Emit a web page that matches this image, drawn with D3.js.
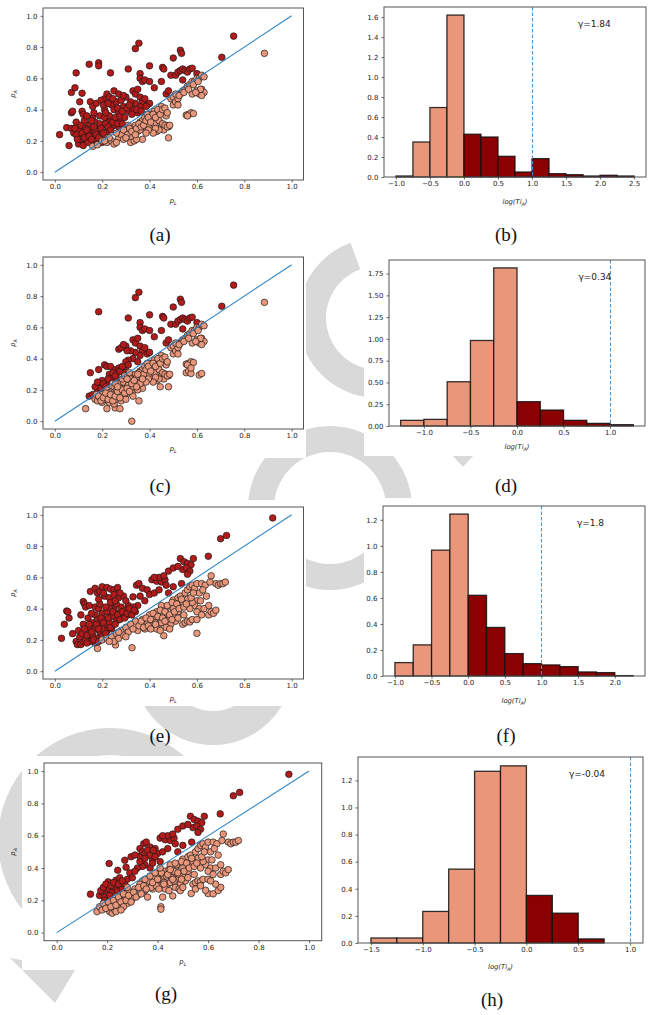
<!DOCTYPE html>
<html>
<head>
<meta charset="utf-8">
<script src="https://cdn.jsdelivr.net/npm/d3@7"></script>
<style>
body{margin:0;background:#fff}
svg{display:block}
</style>
</head>
<body>
<div id="fig"></div>
<script>
// ---- scatter data: [pL, pA, above(1)/below(0)] ----
var abShared = [
[0.31,0.66,1],[0.34,0.79,1],[0.355,0.825,1],[0.36,0.63,1],[0.36,0.6,1],[0.37,0.58,1],[0.38,0.59,1],[0.4,0.68,1],
[0.4,0.58,1],[0.42,0.54,1],[0.45,0.58,1],[0.455,0.67,1],[0.46,0.66,1],[0.47,0.5,1],[0.48,0.52,1],[0.49,0.62,1],
[0.5,0.73,1],[0.51,0.62,1],[0.52,0.64,1],[0.53,0.78,1],[0.535,0.76,1],[0.53,0.65,1],[0.54,0.66,1],[0.55,0.65,1],
[0.56,0.64,1],[0.57,0.66,1],[0.58,0.665,1],[0.54,0.59,1],[0.6,0.63,1],[0.705,0.735,1],[0.755,0.87,1],[0.33,0.52,1],
[0.34,0.5,1],[0.35,0.53,1],[0.36,0.48,1],[0.37,0.45,1],[0.38,0.47,1],[0.36,0.42,1],[0.34,0.44,1],[0.32,0.45,1],
[0.33,0.4,1],[0.35,0.38,1],[0.39,0.43,1],[0.3,0.48,1],[0.31,0.39,1],[0.4,0.44,1],
[0.885,0.76,0],[0.32,0.19,0],[0.335,0.2,0],[0.37,0.21,0],[0.48,0.22,0],[0.33,0.28,0],[0.34,0.3,0],[0.35,0.26,0],
[0.36,0.32,0],[0.37,0.33,0],[0.38,0.29,0],[0.38,0.35,0],[0.39,0.31,0],[0.4,0.37,0],[0.4,0.3,0],[0.41,0.34,0],
[0.41,0.27,0],[0.42,0.39,0],[0.42,0.31,0],[0.43,0.36,0],[0.43,0.26,0],[0.44,0.4,0],[0.44,0.33,0],[0.45,0.42,0],
[0.45,0.29,0],[0.46,0.38,0],[0.46,0.27,0],[0.47,0.3,0],[0.47,0.36,0],[0.48,0.29,0],[0.44,0.27,0],[0.39,0.37,0],
[0.36,0.27,0],[0.49,0.47,0],[0.5,0.48,0],[0.5,0.43,0],[0.51,0.45,0],[0.52,0.47,0],[0.52,0.43,0],[0.53,0.5,0],
[0.54,0.52,0],[0.55,0.53,0],[0.56,0.55,0],[0.57,0.56,0],[0.58,0.58,0],[0.59,0.58,0],[0.6,0.6,0],[0.61,0.6,0],
[0.62,0.62,0],[0.63,0.61,0],[0.58,0.5,0],[0.6,0.52,0],[0.61,0.5,0],[0.62,0.53,0],[0.63,0.51,0],[0.62,0.49,0],
[0.555,0.365,0],[0.565,0.37,0],[0.575,0.38,0],[0.585,0.375,0],[0.56,0.36,0],[0.3,0.26,0],[0.31,0.3,0],[0.32,0.23,0],
[0.305,0.24,0],[0.315,0.28,0],[0.325,0.26,0],[0.345,0.28,0],[0.355,0.31,0],[0.365,0.29,0],[0.375,0.3,0],[0.385,0.33,0],
[0.395,0.35,0],[0.405,0.32,0],[0.415,0.37,0],[0.425,0.35,0],[0.435,0.4,0],[0.445,0.37,0],[0.455,0.4,0],[0.465,0.41,0],
[0.475,0.38,0],[0.455,0.31,0],[0.465,0.3,0],[0.475,0.29,0],[0.485,0.3,0],[0.425,0.28,0],[0.415,0.25,0],[0.395,0.27,0],
[0.385,0.25,0],[0.345,0.21,0],[0.51,0.5,0],[0.525,0.49,0],[0.545,0.51,0],[0.565,0.53,0],[0.585,0.56,0],[0.605,0.58,0],
[0.615,0.53,0],[0.595,0.51,0]
];
var aOnly = [
[0.02,0.24,1],[0.06,0.17,1],[0.05,0.285,1],[0.07,0.28,1],[0.08,0.25,1],[0.09,0.32,1],[0.07,0.38,1],[0.075,0.39,1],
[0.09,0.635,1],[0.07,0.51,1],[0.085,0.54,1],[0.115,0.505,1],[0.105,0.45,1],[0.115,0.39,1],[0.12,0.37,1],[0.145,0.69,1],
[0.185,0.7,1],[0.185,0.68,1],[0.235,0.635,1],[0.1,0.22,1],[0.11,0.2,1],[0.1,0.18,1],[0.12,0.17,1],[0.13,0.24,1],
[0.12,0.28,1],[0.14,0.3,1],[0.1,0.27,1],[0.09,0.24,1],[0.13,0.21,1],[0.14,0.19,1],[0.15,0.45,1],[0.16,0.42,1],
[0.15,0.26,1],[0.16,0.23,1],[0.16,0.35,1],[0.17,0.32,1],[0.18,0.28,1],[0.17,0.2,1],[0.18,0.18,1],[0.19,0.36,1],
[0.19,0.25,1],[0.2,0.3,1],[0.2,0.22,1],[0.21,0.47,1],[0.21,0.4,1],[0.22,0.5,1],[0.22,0.33,1],[0.22,0.26,1],
[0.23,0.48,1],[0.23,0.36,1],[0.24,0.43,1],[0.24,0.29,1],[0.25,0.52,1],[0.25,0.4,1],[0.26,0.45,1],[0.26,0.33,1],
[0.27,0.5,1],[0.27,0.38,1],[0.28,0.46,1],[0.28,0.34,1],[0.29,0.49,1],[0.29,0.42,1],[0.25,0.3,1],[0.27,0.29,1],
[0.2,0.19,1],[0.18,0.24,1],[0.14,0.25,1],[0.11,0.3,1],[0.13,0.28,1],[0.17,0.27,1],[0.19,0.31,1],[0.21,0.35,1],
[0.23,0.32,1],[0.105,0.21,1],[0.115,0.25,1],[0.125,0.22,1],[0.135,0.27,1],[0.145,0.23,1],[0.155,0.21,1],[0.165,0.29,1],
[0.175,0.24,1],[0.185,0.22,1],[0.195,0.28,1],[0.205,0.25,1],[0.215,0.31,1],[0.225,0.29,1],[0.235,0.27,1],[0.245,0.32,1],
[0.255,0.35,1],[0.265,0.31,1],[0.275,0.36,1],[0.285,0.31,1],[0.295,0.35,1],[0.155,0.33,1],[0.165,0.38,1],[0.175,0.44,1],
[0.195,0.46,1],[0.205,0.43,1],[0.215,0.38,1],[0.225,0.44,1],[0.245,0.47,1],[0.265,0.41,1],[0.285,0.39,1],[0.305,0.41,1],
[0.315,0.43,1],[0.325,0.37,1],[0.345,0.4,1],[0.365,0.39,1],[0.385,0.42,1],[0.125,0.33,1],[0.135,0.36,1],[0.085,0.28,1],
[0.095,0.21,1],
[0.16,0.165,0],[0.18,0.175,0],[0.2,0.2,0],[0.22,0.19,0],[0.24,0.2,0],[0.25,0.18,0],[0.27,0.22,0],[0.28,0.24,0],
[0.29,0.21,0],[0.26,0.25,0],[0.29,0.27,0],[0.26,0.19,0],[0.23,0.22,0],[0.21,0.2,0],[0.3,0.22,0],[0.34,0.24,0]
];
var cOnly = [
[0.185,0.7,1],[0.15,0.31,1],[0.185,0.33,1],[0.145,0.16,1],[0.16,0.17,1],[0.18,0.2,1],[0.19,0.24,1],[0.2,0.22,1],
[0.21,0.25,1],[0.2,0.26,1],[0.22,0.24,1],[0.21,0.36,1],[0.22,0.35,1],[0.23,0.3,1],[0.24,0.28,1],[0.25,0.33,1],
[0.235,0.35,1],[0.26,0.3,1],[0.27,0.46,1],[0.28,0.47,1],[0.29,0.49,1],[0.305,0.45,1],[0.27,0.34,1],[0.28,0.33,1],
[0.3,0.35,1],[0.29,0.31,1],[0.26,0.27,1],[0.17,0.22,1],[0.18,0.25,1],[0.195,0.21,1],[0.205,0.24,1],[0.215,0.22,1],
[0.225,0.27,1],[0.245,0.31,1],[0.255,0.29,1],[0.275,0.32,1],[0.285,0.35,1],[0.3,0.38,1],[0.31,0.36,1],
[0.13,0.08,0],[0.22,0.08,0],[0.255,0.085,0],[0.275,0.08,0],[0.325,0.0,0],[0.355,0.13,0],[0.445,0.22,0],[0.17,0.14,0],
[0.18,0.13,0],[0.19,0.15,0],[0.2,0.12,0],[0.21,0.14,0],[0.22,0.16,0],[0.23,0.12,0],[0.24,0.15,0],[0.25,0.11,0],
[0.26,0.14,0],[0.27,0.17,0],[0.28,0.13,0],[0.29,0.16,0],[0.3,0.14,0],[0.31,0.18,0],[0.22,0.2,0],[0.24,0.19,0],
[0.25,0.22,0],[0.26,0.2,0],[0.27,0.24,0],[0.28,0.21,0],[0.29,0.25,0],[0.3,0.2,0],[0.31,0.23,0],[0.32,0.27,0],
[0.33,0.22,0],[0.34,0.25,0],[0.35,0.2,0],[0.35,0.3,0],[0.36,0.24,0],[0.37,0.27,0],[0.2,0.17,0],[0.23,0.18,0],
[0.555,0.31,0],[0.565,0.32,0],[0.575,0.305,0],[0.61,0.295,0],[0.62,0.305,0],[0.575,0.34,0],[0.33,0.16,0],[0.28,0.18,0],
[0.175,0.17,0],[0.185,0.16,0],[0.195,0.13,0],[0.205,0.15,0],[0.215,0.18,0],[0.225,0.14,0],[0.235,0.17,0],[0.245,0.13,0],
[0.255,0.16,0],[0.265,0.19,0],[0.275,0.15,0],[0.285,0.2,0],[0.295,0.18,0],[0.305,0.21,0],[0.315,0.19,0],[0.325,0.24,0],
[0.335,0.26,0],[0.345,0.22,0],[0.255,0.24,0],[0.265,0.22,0],[0.285,0.27,0],[0.295,0.29,0],[0.305,0.27,0],[0.315,0.31,0]
];
var egShared = [
[0.33,0.475,1],[0.345,0.55,1],[0.355,0.56,1],[0.37,0.53,1],[0.41,0.585,1],[0.43,0.575,1],[0.45,0.57,1],[0.465,0.585,1],
[0.48,0.64,1],[0.47,0.55,1],[0.44,0.6,1],[0.42,0.6,1],[0.46,0.61,1],[0.5,0.66,1],[0.53,0.72,1],[0.545,0.7,1],
[0.56,0.69,1],[0.575,0.68,1],[0.585,0.72,1],[0.54,0.65,1],[0.555,0.66,1],[0.57,0.64,1],[0.535,0.56,1],[0.56,0.62,1],
[0.52,0.67,1],[0.648,0.735,1],[0.7,0.847,1],[0.725,0.868,1],[0.92,0.98,1],[0.39,0.52,1],[0.4,0.49,1],[0.42,0.5,1],
[0.44,0.52,1],[0.5,0.54,1],[0.48,0.5,1],[0.36,0.48,1],[0.38,0.45,1],[0.35,0.42,1],
[0.46,0.227,0],[0.6,0.242,0],[0.5,0.455,0],[0.54,0.3,0],[0.55,0.31,0],[0.56,0.32,0],[0.57,0.315,0],[0.58,0.33,0],
[0.52,0.47,0],[0.53,0.48,0],[0.55,0.5,0],[0.56,0.52,0],[0.57,0.54,0],[0.58,0.55,0],[0.59,0.53,0],[0.6,0.56,0],
[0.61,0.5,0],[0.62,0.56,0],[0.635,0.55,0],[0.66,0.61,0],[0.68,0.56,0],[0.69,0.55,0],[0.7,0.56,0],[0.71,0.56,0],
[0.72,0.57,0],[0.6,0.45,0],[0.59,0.42,0],[0.61,0.4,0],[0.6,0.38,0],[0.62,0.36,0],[0.63,0.4,0],[0.65,0.36,0],
[0.66,0.38,0],[0.67,0.37,0],[0.68,0.39,0],[0.65,0.42,0],[0.64,0.48,0],[0.57,0.4,0],[0.58,0.44,0],[0.56,0.46,0],
[0.6,0.33,0],[0.53,0.42,0],[0.52,0.38,0],[0.5,0.35,0],[0.48,0.33,0],[0.47,0.4,0],[0.46,0.36,0],[0.45,0.42,0],
[0.44,0.3,0],[0.43,0.38,0],[0.42,0.34,0],[0.41,0.29,0],[0.4,0.36,0],[0.39,0.31,0],[0.38,0.27,0],[0.37,0.33,0],
[0.36,0.3,0],[0.35,0.26,0],[0.34,0.32,0],[0.45,0.31,0],[0.49,0.3,0],[0.51,0.32,0],[0.43,0.27,0],[0.47,0.28,0],
[0.5,0.4,0],[0.54,0.44,0],[0.355,0.29,0],[0.365,0.32,0],[0.375,0.28,0],[0.385,0.34,0],[0.395,0.29,0],[0.405,0.33,0],
[0.415,0.37,0],[0.425,0.31,0],[0.435,0.35,0],[0.445,0.39,0],[0.455,0.34,0],[0.465,0.38,0],[0.475,0.42,0],[0.485,0.36,0],
[0.495,0.44,0],[0.505,0.38,0],[0.515,0.43,0],[0.525,0.4,0],[0.535,0.46,0],[0.545,0.41,0],[0.405,0.27,0],[0.425,0.3,0],
[0.445,0.26,0],[0.465,0.32,0],[0.485,0.27,0],[0.495,0.33,0],[0.52,0.34,0],[0.545,0.36,0],[0.555,0.43,0],[0.575,0.47,0],
[0.585,0.5,0],[0.615,0.45,0],[0.625,0.52,0],[0.655,0.57,0]
];
var eOnly = [
[0.028,0.21,1],[0.04,0.3,1],[0.05,0.385,1],[0.055,0.38,1],[0.06,0.34,1],[0.075,0.24,1],[0.09,0.19,1],[0.095,0.17,1],
[0.11,0.17,1],[0.12,0.19,1],[0.11,0.36,1],[0.12,0.445,1],[0.125,0.43,1],[0.13,0.41,1],[0.15,0.51,1],[0.17,0.53,1],
[0.18,0.5,1],[0.19,0.51,1],[0.2,0.54,1],[0.22,0.535,1],[0.235,0.525,1],[0.25,0.52,1],[0.265,0.535,1],[0.17,0.41,1],
[0.185,0.4,1],[0.19,0.43,1],[0.21,0.48,1],[0.23,0.47,1],[0.25,0.49,1],[0.27,0.47,1],[0.29,0.48,1],[0.1,0.26,1],
[0.12,0.3,1],[0.13,0.25,1],[0.14,0.22,1],[0.14,0.34,1],[0.15,0.28,1],[0.16,0.23,1],[0.16,0.31,1],[0.17,0.36,1],
[0.17,0.27,1],[0.18,0.21,1],[0.18,0.33,1],[0.19,0.25,1],[0.19,0.3,1],[0.2,0.37,1],[0.2,0.22,1],[0.21,0.29,1],
[0.21,0.33,1],[0.22,0.26,1],[0.22,0.38,1],[0.23,0.31,1],[0.24,0.35,1],[0.24,0.27,1],[0.25,0.4,1],[0.26,0.32,1],
[0.27,0.37,1],[0.28,0.34,1],[0.28,0.41,1],[0.29,0.37,1],[0.3,0.39,1],[0.31,0.36,1],[0.31,0.42,1],[0.32,0.39,1],
[0.33,0.41,1],[0.34,0.38,1],[0.3,0.45,1],[0.26,0.43,1],[0.23,0.41,1],[0.15,0.19,1],[0.13,0.2,1],[0.17,0.18,1],
[0.2,0.27,1],[0.105,0.22,1],[0.115,0.24,1],[0.125,0.27,1],[0.135,0.23,1],[0.145,0.3,1],[0.155,0.25,1],[0.165,0.2,1],
[0.175,0.3,1],[0.185,0.27,1],[0.195,0.34,1],[0.205,0.31,1],[0.215,0.24,1],[0.225,0.34,1],[0.235,0.28,1],[0.245,0.38,1],
[0.255,0.3,1],[0.265,0.36,1],[0.275,0.33,1],[0.285,0.38,1],[0.295,0.34,1],[0.305,0.37,1],[0.315,0.4,1],[0.325,0.36,1],
[0.335,0.39,1],[0.215,0.41,1],[0.235,0.44,1],[0.155,0.37,1],[0.145,0.42,1],[0.185,0.46,1],[0.205,0.5,1],[0.255,0.45,1],
[0.275,0.5,1],[0.135,0.18,1],[0.185,0.19,1],
[0.18,0.145,0],[0.256,0.168,0],[0.326,0.15,0],[0.2,0.2,0],[0.22,0.21,0],[0.24,0.22,0],[0.25,0.19,0],[0.26,0.24,0],
[0.27,0.21,0],[0.28,0.26,0],[0.29,0.23,0],[0.3,0.28,0],[0.31,0.25,0],[0.32,0.3,0],[0.33,0.27,0],[0.3,0.22,0],
[0.23,0.19,0],[0.27,0.25,0]
];
var gOnly = [
[0.134,0.238,1],[0.2,0.262,1],[0.204,0.314,1],[0.208,0.428,1],[0.242,0.386,1],[0.235,0.324,1],[0.25,0.34,1],[0.17,0.23,1],
[0.18,0.25,1],[0.19,0.22,1],[0.21,0.27,1],[0.22,0.25,1],[0.23,0.28,1],[0.24,0.26,1],[0.25,0.29,1],[0.26,0.27,1],
[0.27,0.3,1],[0.19,0.2,1],[0.21,0.23,1],[0.27,0.448,1],[0.275,0.405,1],[0.29,0.37,1],[0.295,0.47,1],[0.31,0.48,1],
[0.33,0.52,1],[0.34,0.5,1],[0.35,0.49,1],[0.36,0.51,1],[0.37,0.48,1],[0.383,0.51,1],[0.39,0.47,1],[0.34,0.41,1],
[0.32,0.4,1],[0.31,0.38,1],[0.37,0.4,1],[0.41,0.44,1],[0.28,0.33,1],[0.3,0.34,1],[0.175,0.26,1],[0.185,0.28,1],
[0.195,0.3,1],[0.215,0.29,1],[0.225,0.31,1],[0.245,0.3,1],[0.26,0.32,1],[0.33,0.44,1],[0.35,0.46,1],[0.38,0.43,1],
[0.16,0.13,0],[0.17,0.16,0],[0.18,0.14,0],[0.19,0.17,0],[0.2,0.15,0],[0.21,0.13,0],[0.22,0.12,0],[0.23,0.14,0],
[0.24,0.17,0],[0.25,0.15,0],[0.22,0.19,0],[0.24,0.2,0],[0.26,0.19,0],[0.27,0.22,0],[0.28,0.18,0],[0.29,0.25,0],
[0.3,0.21,0],[0.31,0.27,0],[0.32,0.23,0],[0.33,0.3,0],[0.34,0.26,0],[0.35,0.33,0],[0.36,0.22,0],[0.37,0.35,0],
[0.38,0.31,0],[0.39,0.37,0],[0.4,0.33,0],[0.41,0.4,0],[0.42,0.22,0],[0.413,0.16,0],[0.413,0.145,0],[0.44,0.36,0],
[0.45,0.39,0],[0.46,0.33,0],[0.47,0.43,0],[0.48,0.37,0],[0.49,0.26,0],[0.5,0.28,0],[0.533,0.242,0],[0.55,0.27,0],
[0.59,0.262,0],[0.62,0.24,0],[0.64,0.26,0],[0.65,0.28,0],[0.63,0.3,0],[0.61,0.32,0],[0.57,0.29,0],[0.25,0.23,0],
[0.28,0.28,0],[0.185,0.18,0],[0.195,0.15,0],[0.205,0.19,0],[0.215,0.16,0],[0.225,0.2,0],[0.235,0.17,0],[0.245,0.22,0],
[0.255,0.19,0],[0.265,0.24,0],[0.275,0.2,0],[0.285,0.23,0],[0.295,0.19,0],[0.305,0.25,0],[0.315,0.22,0],[0.325,0.28,0],
[0.335,0.24,0],[0.345,0.29,0],[0.355,0.27,0],[0.265,0.16,0],[0.235,0.13,0],[0.255,0.14,0]
];
var diagonal = [0, 1];
var scatterTicks = [0, 0.2, 0.4, 0.6, 0.8, 1.0];

// ---- histogram data: bin edges and densities of log(Ti_A) ----
var edgesB = [-1.0,-0.75,-0.5,-0.25,0,0.25,0.5,0.75,1.0,1.25,1.5,1.75,2.0,2.25,2.5];
var densB  = [0.01,0.35,0.695,1.62,0.428,0.4,0.207,0.05,0.184,0.033,0.023,0.01,0.017,0.01];
var edgesD = [-1.25,-1.0,-0.75,-0.5,-0.25,0,0.25,0.5,0.75,1.0,1.25];
var densD  = [0.065,0.076,0.508,0.982,1.815,0.279,0.183,0.065,0.03,0.015];
var edgesF = [-1.0,-0.75,-0.5,-0.25,0,0.25,0.5,0.75,1.0,1.25,1.5,1.75,2.0,2.25];
var densF  = [0.103,0.239,0.967,1.244,0.62,0.373,0.172,0.095,0.085,0.072,0.031,0.026,0.003];
var edgesH = [-1.5,-1.25,-1.0,-0.75,-0.5,-0.25,0,0.25,0.5,0.75];
var densH  = [0.037,0.037,0.233,0.545,1.267,1.307,0.351,0.22,0.03];
var ticksXB = [-1.0,-0.5,0,0.5,1.0,1.5,2.0,2.5], ticksYB = [0,0.2,0.4,0.6,0.8,1.0,1.2,1.4,1.6];
var ticksXD = [-1.0,-0.5,0,0.5,1.0], ticksYD = [0,0.25,0.5,0.75,1.0,1.25,1.5,1.75];
var ticksXF = [-1.0,-0.5,0,0.5,1.0,1.5,2.0], ticksYF = [0,0.2,0.4,0.6,0.8,1.0,1.2];
var ticksXH = [-1.5,-1.0,-0.5,0,0.5,1.0], ticksYH = [0,0.2,0.4,0.6,0.8,1.0,1.2];
var threshold = 1.0;
var gammaLabels = ["γ=1.84", "γ=0.34", "γ=1.8", "γ=-0.04"];
var captions = ["(a)","(b)","(c)","(d)","(e)","(f)","(g)","(h)"];

var darkPt = "#b31b1b", lightPt = "#e9967a", darkBar = "#8b0000", lightBar = "#e9967a";
var lineBlue = "#3185c5", dashBlue = "#4a96d2";
var font = "DejaVu Sans";

var svg = d3.select("#fig").append("svg").attr("width", 654).attr("height", 1015);

// faint watermark behind the panel images
var wm = svg.append("g").attr("fill", "#d9d9d9");
var arc = d3.arc();
wm.append("path").attr("transform", "translate(378,318)")
  .attr("d", arc({innerRadius: 52, outerRadius: 80, startAngle: -Math.PI, endAngle: -0.35}));
wm.append("path").attr("transform", "translate(330,508)")
  .attr("d", arc({innerRadius: 56, outerRadius: 82, startAngle: 0, endAngle: 2 * Math.PI}));
wm.append("path").attr("transform", "translate(213,665)")
  .attr("d", arc({innerRadius: 46, outerRadius: 80, startAngle: 0, endAngle: 2 * Math.PI}));
wm.append("path").attr("transform", "translate(110,840)")
  .attr("d", arc({innerRadius: 85, outerRadius: 112, startAngle: 0, endAngle: 2 * Math.PI}));
wm.append("path").attr("d", "M10,958L75,970L55,1003Z");
wm.append("path").attr("d", "M452,455L474,455L463,467Z");

// white backgrounds of the eight panel images
[[22,0,306,208],[364,0,654,208],[22,250,306,458],[364,252,654,456],
 [22,500,306,706],[364,498,654,708],[22,756,326,970],[352,752,654,974]].forEach(function(r){
  svg.append("rect").attr("x", r[0]).attr("y", r[1]).attr("width", r[2]-r[0]).attr("height", r[3]-r[1]).attr("fill", "#fff");
});

function styleAxis(a){
  a.select(".domain").remove();
  a.selectAll("line").attr("stroke", "#444").attr("stroke-width", 0.8);
  a.selectAll("text").attr("fill", "#262626").style("font-family", font).style("font-size", "7px");
}
function frame(g, b){
  g.append("rect").attr("x", b[0]).attr("y", b[1]).attr("width", b[2]-b[0]).attr("height", b[3]-b[1])
    .attr("fill", "none").attr("stroke", "#555").attr("stroke-width", 1);
}
function drawAxes(g, x, y, b, xt, yt, xf, yf){
  styleAxis(g.append("g").attr("transform", "translate(0," + b[3] + ")")
    .call(d3.axisBottom(x).tickValues(xt).tickFormat(xf).tickSize(2.5).tickPadding(2)));
  styleAxis(g.append("g").attr("transform", "translate(" + b[0] + ",0)")
    .call(d3.axisLeft(y).tickValues(yt).tickFormat(yf).tickSize(2.5).tickPadding(3)));
}
function subLabel(g, x, y, main, sub, tail, rot){
  var t = g.append("text").attr("transform", "translate(" + x + "," + y + ")" + (rot ? " rotate(-90)" : ""))
    .attr("text-anchor", "middle").attr("fill", "#262626")
    .style("font-family", font).style("font-size", "6.8px").style("font-style", "italic");
  t.append("tspan").text(main);
  t.append("tspan").attr("dy", 1.8).style("font-size", "4.8px").text(sub);
  if (tail) t.append("tspan").attr("dy", -1.8).text(tail);
}

var fmt1 = d3.format(".1f"), fmt2 = d3.format(".2f");

var scatterPanels = [
  {pts: abShared.concat(aOnly), box: [43, 8, 303.5, 180], xl: 203},
  {pts: abShared.concat(cOnly), box: [43, 257, 303.5, 429], xl: 451},
  {pts: egShared.concat(eOnly), box: [43, 507, 303.5, 679], xl: 701},
  {pts: egShared.concat(gOnly), box: [44, 763, 321.7, 940.7], xl: 964}
];
scatterPanels.forEach(function(p){
  var b = p.box, g = svg.append("g");
  var x = d3.scaleLinear().domain([-0.05, 1.05]).range([b[0], b[2]]);
  var y = d3.scaleLinear().domain([-0.05, 1.05]).range([b[3], b[1]]);
  var sorted = p.pts.filter(d => d[2] === 1).concat(p.pts.filter(d => d[2] === 0));
  g.selectAll("circle").data(sorted).enter().append("circle")
    .attr("cx", d => x(d[0])).attr("cy", d => y(d[1])).attr("r", 3.3)
    .attr("fill", d => d[2] ? darkPt : lightPt)
    .attr("stroke", "#1a1a1a").attr("stroke-width", 0.7);
  g.append("path").datum(diagonal)
    .attr("d", d3.line().x(d => x(d)).y(d => y(d)))
    .attr("stroke", lineBlue).attr("stroke-width", 1.1).attr("fill", "none");
  frame(g, b);
  drawAxes(g, x, y, b, scatterTicks, scatterTicks, fmt1, fmt1);
  subLabel(g, (b[0] + b[2]) / 2, p.xl, "p", "L", null, false);
  subLabel(g, 15, (b[1] + b[3]) / 2, "p", "A", null, true);
});

var histPanels = [
  {edges: edgesB, dens: densB, box: [384, 7, 646, 177], xt: ticksXB, yt: ticksYB, yf: fmt1, xl: 204},
  {edges: edgesD, dens: densD, box: [389, 260, 645, 426], xt: ticksXD, yt: ticksYD, yf: fmt2, xl: 449},
  {edges: edgesF, dens: densF, box: [383, 506, 645, 676], xt: ticksXF, yt: ticksYF, yf: fmt1, xl: 703},
  {edges: edgesH, dens: densH, box: [358, 757, 643, 943], xt: ticksXH, yt: ticksYH, yf: fmt1, xl: 969}
];
histPanels.forEach(function(p, i){
  var b = p.box, g = svg.append("g");
  var lo = Math.min(p.edges[0], threshold), hi = Math.max(p.edges[p.edges.length - 1], threshold);
  var pad = 0.05 * (hi - lo);
  var x = d3.scaleLinear().domain([lo - pad, hi + pad]).range([b[0], b[2]]);
  var y = d3.scaleLinear().domain([0, d3.max(p.dens) * 1.05]).range([b[3], b[1]]);
  var bins = p.dens.map((v, k) => ({x0: p.edges[k], x1: p.edges[k + 1], v: v}));
  g.selectAll("rect.bar").data(bins).enter().append("rect").attr("class", "bar")
    .attr("x", d => x(d.x0)).attr("width", d => x(d.x1) - x(d.x0))
    .attr("y", d => y(d.v)).attr("height", d => y(0) - y(d.v))
    .attr("fill", d => d.x0 >= 0 ? darkBar : lightBar)
    .attr("stroke", "#111").attr("stroke-opacity", 0.85).attr("stroke-width", 1.3);
  var xv = Math.round(x(threshold)) + 0.5;
  g.append("path").attr("d", "M" + xv + "," + b[1] + "V" + b[3])
    .attr("stroke", dashBlue).attr("stroke-width", 1.1).attr("stroke-dasharray", "3.5,2").attr("fill", "none");
  frame(g, b);
  drawAxes(g, x, y, b, p.xt, p.yt, fmt1, p.yf);
  g.append("text").attr("x", b[0] + 0.74 * (b[2] - b[0])).attr("y", b[1] + 20)
    .attr("fill", "#222").style("font-family", font).style("font-size", "9px").text(gammaLabels[i]);
  subLabel(g, (b[0] + b[2]) / 2, p.xl, "log(Ti", "A", ")", false);
});

// sub-figure captions
var capPos = [[160,241],[506,241],[160,492],[506,492],[160,742],[506,742],[166,1000],[492,1006]];
svg.selectAll("text.cap").data(captions).enter().append("text").attr("class", "cap")
  .attr("x", (d, i) => capPos[i][0]).attr("y", (d, i) => capPos[i][1])
  .attr("text-anchor", "middle").attr("fill", "#111")
  .style("font-family", "Liberation Serif").style("font-size", "19px").text(d => d);
</script>
</body>
</html>
